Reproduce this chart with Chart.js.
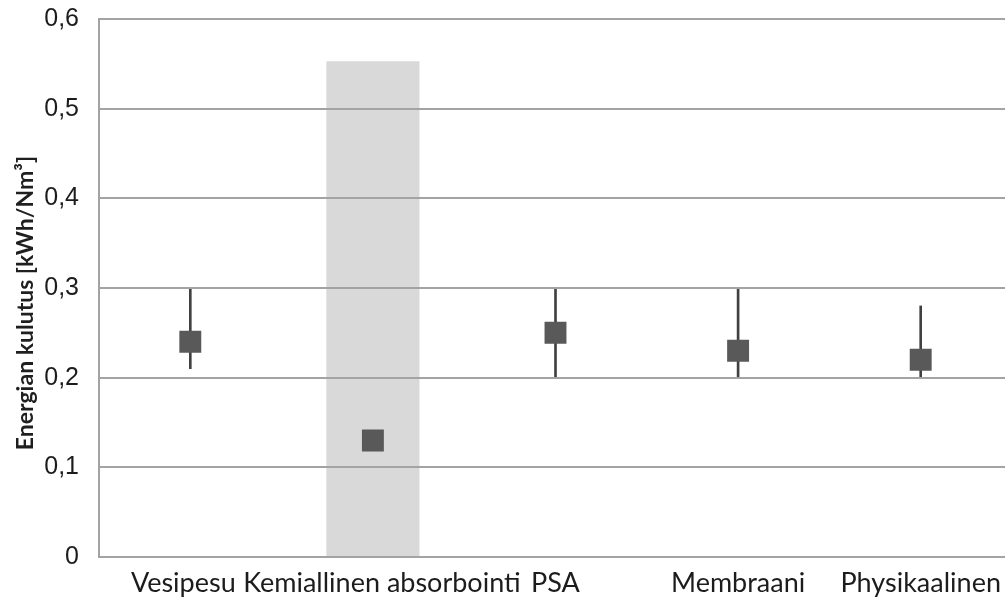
<!DOCTYPE html>
<html>
<head>
<meta charset="utf-8">
<script src="https://cdn.jsdelivr.net/npm/chart.js@4/dist/chart.umd.min.js"></script>
<style>
  html, body { margin: 0; padding: 0; background: #ffffff; overflow: hidden; }
  #wrap { width: 1005px; height: 601px; position: relative; overflow: hidden; }
</style>
</head>
<body>
<div id="wrap"><canvas id="chart" width="1012" height="601"></canvas></div>
<script>
// Energy consumption of biogas upgrading methods [kWh/Nm³]
const categories = ['Vesipesu', 'Kemiallinen absorbointi', 'PSA', 'Membraani', 'Physikaalinen'];
const energyTypical = [0.24, 0.13, 0.25, 0.23, 0.22];
const energyLow = [0.21, null, 0.20, 0.20, 0.20];
const energyHigh = [0.30, null, 0.30, 0.30, 0.28];
const heatBand = [null, 0.553, null, null, null];
const yTickLabels = ['0', '0,1', '0,2', '0,3', '0,4', '0,5', '0,6'];
const yTitle = 'Energian kulutus [kWh/Nm³]';

// small horizontal nudges so the two long neighbouring labels do not collide
const labelNudge = [-7, 9, 0, 0, 0];

const rangeBars = energyLow.map((lo, i) => (lo === null ? null : [lo, energyHigh[i]]));

const gridGray = '#a3a3a3';
const textDark = '#1c1c1c';

// vertical axis title and category labels
const axisText = {
  id: 'axisText',
  afterDraw(chart) {
    const ctx = chart.ctx;
    const xs = chart.scales.x;

    ctx.save();
    ctx.font = '27px Lato, sans-serif';
    ctx.fillStyle = textDark;
    ctx.textAlign = 'center';
    ctx.textBaseline = 'alphabetic';
    categories.forEach((name, i) => {
      ctx.fillText(name, xs.getPixelForValue(i) + labelNudge[i], 592);
    });
    ctx.restore();

    ctx.save();
    ctx.translate(33, 303);
    ctx.rotate(-Math.PI / 2);
    ctx.font = 'bold 23px Lato, sans-serif';
    ctx.fillStyle = '#1f1f1f';
    ctx.textAlign = 'center';
    ctx.textBaseline = 'alphabetic';
    ctx.fillText(yTitle, 0, 0);
    ctx.restore();
  }
};

new Chart(document.getElementById('chart'), {
  type: 'bar',
  data: {
    labels: categories,
    datasets: [
      {
        type: 'line',
        data: energyTypical,
        showLine: false,
        pointStyle: 'rect',
        pointRadius: 15.5,
        pointBackgroundColor: '#595959',
        pointBorderColor: '#595959',
        pointBorderWidth: 0,
        order: 0
      },
      {
        data: rangeBars,
        backgroundColor: '#404040',
        barThickness: 2,
        grouped: false,
        order: 1
      },
      {
        data: heatBand,
        backgroundColor: '#d9d9d9',
        categoryPercentage: 1,
        barPercentage: 0.51,
        grouped: false,
        order: 2
      }
    ]
  },
  plugins: [axisText],
  options: {
    responsive: false,
    devicePixelRatio: 1,
    animation: false,
    layout: { autoPadding: false, padding: { top: 19, right: 0, bottom: 0, left: 0 } },
    plugins: { legend: { display: false }, tooltip: { enabled: false } },
    scales: {
      x: {
        grid: { display: false, drawTicks: false },
        border: { display: true, color: gridGray, width: 2, z: 1 },
        ticks: { display: false },
        afterFit: (s) => { s.height = 44; s.paddingLeft = 0; s.paddingRight = 0; }
      },
      y: {
        min: 0,
        max: 0.6,
        afterBuildTicks: (s) => { s.ticks = yTickLabels.map((_, i) => ({ value: i / 10 })); },
        grid: { color: gridGray, lineWidth: 2, drawTicks: false, z: 1 },
        border: { display: true, color: gridGray, width: 2, z: 1 },
        ticks: {
          padding: 20,
          color: textDark,
          font: { family: '"Liberation Sans", Arial, sans-serif', size: 25 },
          callback: (v, i) => yTickLabels[i]
        },
        afterFit: (s) => { s.width = 99; s.paddingTop = 0; s.paddingBottom = 0; }
      }
    }
  }
});
</script>
</body>
</html>
